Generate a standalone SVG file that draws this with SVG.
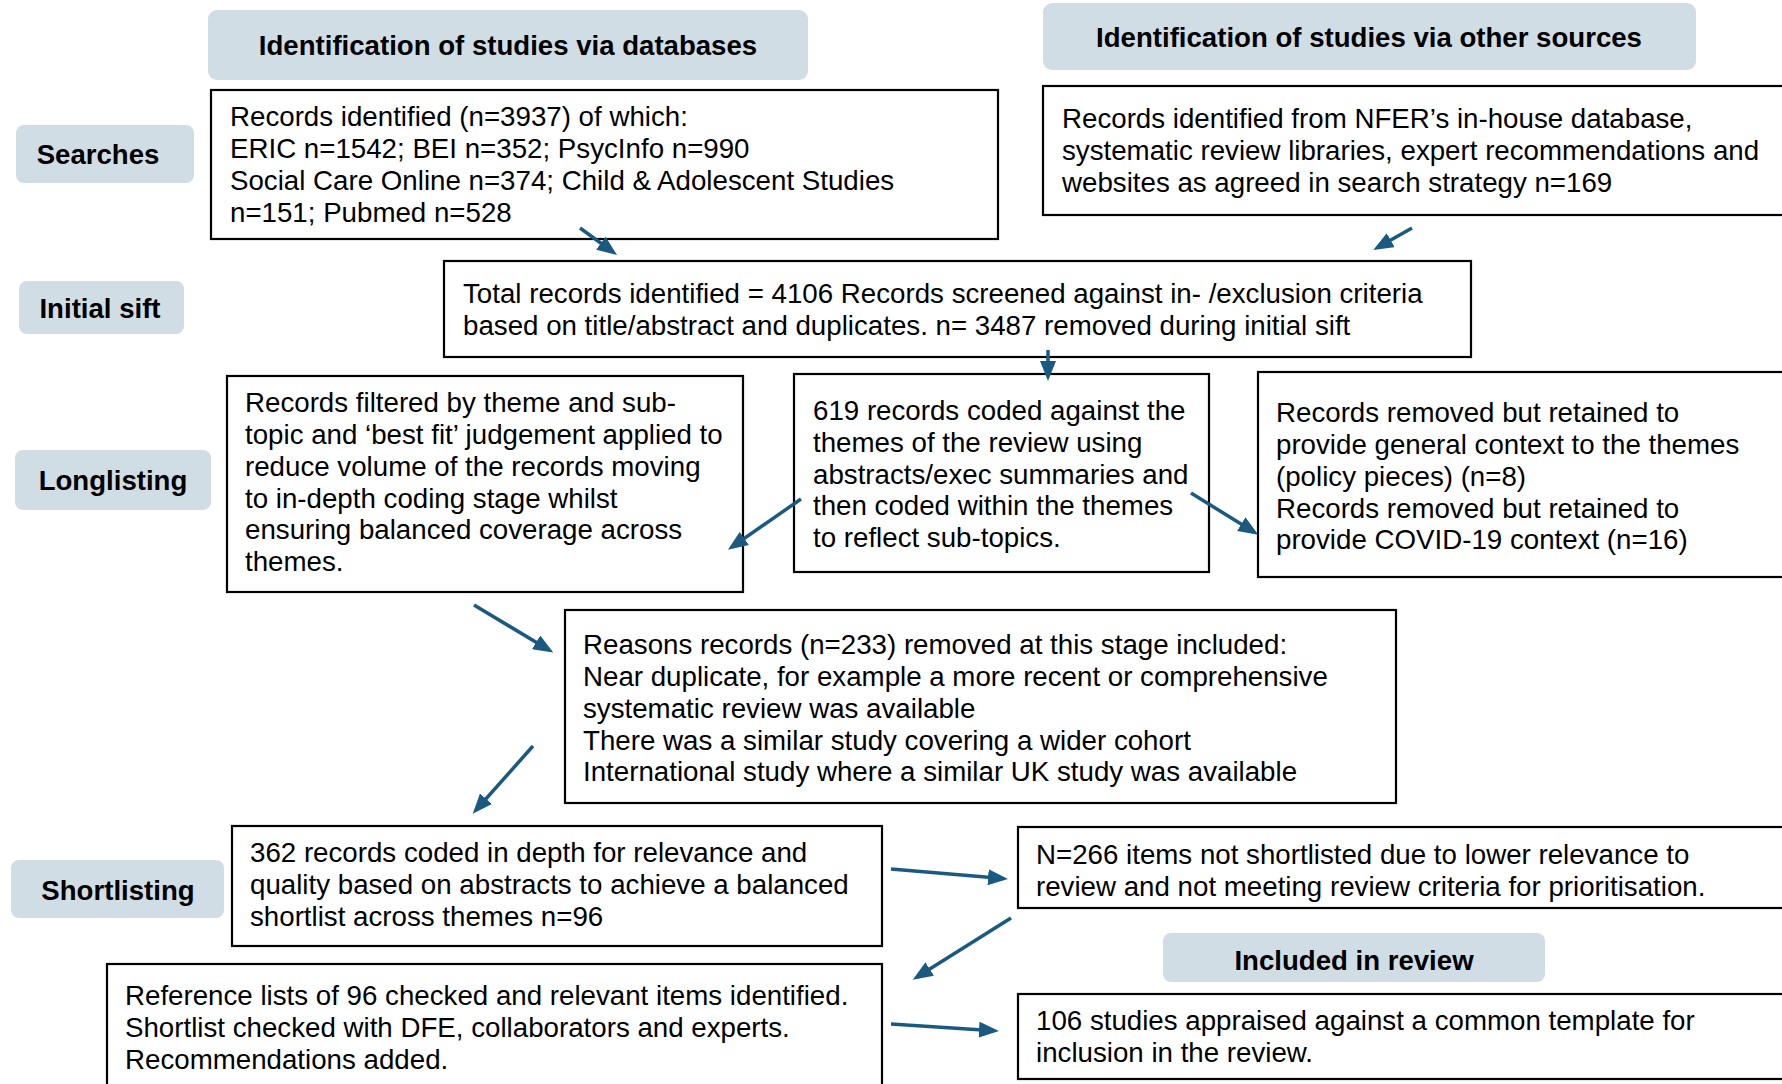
<svg xmlns="http://www.w3.org/2000/svg" width="1782" height="1084" viewBox="0 0 1782 1084">
<style>
  .bg { fill: #ffffff; }
  .lbl { fill: #D1DDE5; stroke: none; }
  .box { fill: #ffffff; stroke: #000000; stroke-width: 2.2; }
  .t { font-family: "Liberation Sans", Arial, sans-serif; font-size: 27.7px; fill: #000000; }
  .b { font-family: "Liberation Sans", Arial, sans-serif; font-size: 27.6px; font-weight: bold; fill: #000000; text-anchor: middle; }
  .arr { stroke: #1B5A80; stroke-width: 3.5; fill: none; marker-end: url(#ah); }
</style>
<defs>
  <marker id="ah" markerUnits="userSpaceOnUse" markerWidth="20" markerHeight="16" refX="15" refY="8" orient="auto">
    <path d="M0,0 L20,8 L0,16 z" fill="#1B5A80"/>
  </marker>
</defs>
<rect class="bg" x="0" y="0" width="1782" height="1084"/>

<g id="hdr-databases">
  <rect class="lbl" x="208" y="10" width="600" height="70" rx="9"/>
  <text class="b" x="508" y="55">Identification of studies via databases</text>
</g>
<g id="hdr-other">
  <rect class="lbl" x="1043" y="3" width="653" height="67" rx="9"/>
  <text class="b" x="1369" y="47">Identification of studies via other sources</text>
</g>

<g id="lbl-searches">
  <rect class="lbl" x="16" y="125" width="178" height="58" rx="8"/>
  <text class="b" x="98" y="164">Searches</text>
</g>
<g id="lbl-initial">
  <rect class="lbl" x="19" y="281" width="165" height="53" rx="8"/>
  <text class="b" x="100" y="318">Initial sift</text>
</g>
<g id="lbl-longlisting">
  <rect class="lbl" x="15" y="450" width="196" height="60" rx="8"/>
  <text class="b" x="113" y="490">Longlisting</text>
</g>
<g id="lbl-shortlisting">
  <rect class="lbl" x="11" y="860" width="213" height="58" rx="8"/>
  <text class="b" x="118" y="900">Shortlisting</text>
</g>
<g id="lbl-included">
  <rect class="lbl" x="1163" y="933" width="382" height="49" rx="8"/>
  <text class="b" x="1354" y="970">Included in review</text>
</g>

<g id="box-db">
  <rect class="box" x="211" y="90" width="787" height="149"/>
  <text class="t" x="230" y="126">Records identified (n=3937) of which:</text>
  <text class="t" x="230" y="158">ERIC n=1542; BEI n=352; PsycInfo n=990</text>
  <text class="t" x="230" y="190">Social Care Online n=374; Child &amp; Adolescent Studies</text>
  <text class="t" x="230" y="222">n=151; Pubmed n=528</text>
</g>
<g id="box-other">
  <rect class="box" x="1043" y="86" width="760" height="129"/>
  <text class="t" x="1062" y="128">Records identified from NFER’s in-house database,</text>
  <text class="t" x="1062" y="160">systematic review libraries, expert recommendations and</text>
  <text class="t" x="1062" y="192">websites as agreed in search strategy n=169</text>
</g>
<g id="box-sift">
  <rect class="box" x="444" y="261" width="1027" height="96"/>
  <text class="t" x="463" y="303">Total records identified = 4106 Records screened against in- /exclusion criteria</text>
  <text class="t" x="463" y="335">based on title/abstract and duplicates. n= 3487 removed during initial sift</text>
</g>
<g id="box-filtered">
  <rect class="box" x="227" y="376" width="516" height="216"/>
  <text class="t" x="245" y="412">Records filtered by theme and sub-</text>
  <text class="t" x="245" y="444">topic and ‘best fit’ judgement applied to</text>
  <text class="t" x="245" y="476">reduce volume of the records moving</text>
  <text class="t" x="245" y="508">to in-depth coding stage whilst</text>
  <text class="t" x="245" y="539">ensuring balanced coverage across</text>
  <text class="t" x="245" y="571">themes.</text>
</g>
<g id="box-619">
  <rect class="box" x="794" y="374" width="415" height="198"/>
  <text class="t" x="813" y="420">619 records coded against the</text>
  <text class="t" x="813" y="452">themes of the review using</text>
  <text class="t" x="813" y="484">abstracts/exec summaries and</text>
  <text class="t" x="813" y="515">then coded within the themes</text>
  <text class="t" x="813" y="547">to reflect sub-topics.</text>
</g>
<g id="box-context">
  <rect class="box" x="1258" y="372" width="545" height="205"/>
  <text class="t" x="1276" y="422">Records removed but retained to</text>
  <text class="t" x="1276" y="454">provide general context to the themes</text>
  <text class="t" x="1276" y="486">(policy pieces) (n=8)</text>
  <text class="t" x="1276" y="518">Records removed but retained to</text>
  <text class="t" x="1276" y="549">provide COVID-19 context (n=16)</text>
</g>
<g id="box-reasons">
  <rect class="box" x="565" y="610" width="831" height="193"/>
  <text class="t" x="583" y="654">Reasons records (n=233) removed at this stage included:</text>
  <text class="t" x="583" y="686">Near duplicate, for example a more recent or comprehensive</text>
  <text class="t" x="583" y="718">systematic review was available</text>
  <text class="t" x="583" y="750">There was a similar study covering a wider cohort</text>
  <text class="t" x="583" y="781">International study where a similar UK study was available</text>
</g>
<g id="box-362">
  <rect class="box" x="232" y="826" width="650" height="120"/>
  <text class="t" x="250" y="862">362 records coded in depth for relevance and</text>
  <text class="t" x="250" y="894">quality based on abstracts to achieve a balanced</text>
  <text class="t" x="250" y="926">shortlist across themes n=96</text>
</g>
<g id="box-266">
  <rect class="box" x="1018" y="827" width="785" height="81"/>
  <text class="t" x="1036" y="864">N=266 items not shortlisted due to lower relevance to</text>
  <text class="t" x="1036" y="896">review and not meeting review criteria for prioritisation.</text>
</g>
<g id="box-ref">
  <rect class="box" x="107" y="964" width="775" height="140"/>
  <text class="t" x="125" y="1005">Reference lists of 96 checked and relevant items identified.</text>
  <text class="t" x="125" y="1037">Shortlist checked with DFE, collaborators and experts.</text>
  <text class="t" x="125" y="1069">Recommendations added.</text>
</g>
<g id="box-106">
  <rect class="box" x="1018" y="994" width="785" height="85"/>
  <text class="t" x="1036" y="1030">106 studies appraised against a common template for</text>
  <text class="t" x="1036" y="1062">inclusion in the review.</text>
</g>

<g id="connectors">
  <line class="arr" x1="580" y1="228" x2="613" y2="252"/>
  <line class="arr" x1="1412" y1="228" x2="1377.6" y2="247.5"/>
  <line class="arr" x1="1048" y1="350" x2="1048" y2="376"/>
  <line class="arr" x1="801" y1="499" x2="732" y2="547"/>
  <line class="arr" x1="1191" y1="493" x2="1254" y2="532"/>
  <line class="arr" x1="474" y1="605" x2="549" y2="650"/>
  <line class="arr" x1="533" y1="746" x2="476" y2="810"/>
  <line class="arr" x1="891" y1="869" x2="1003" y2="878.6"/>
  <line class="arr" x1="1011" y1="918" x2="917" y2="977"/>
  <line class="arr" x1="891" y1="1024" x2="994" y2="1030.7"/>
</g>
</svg>
